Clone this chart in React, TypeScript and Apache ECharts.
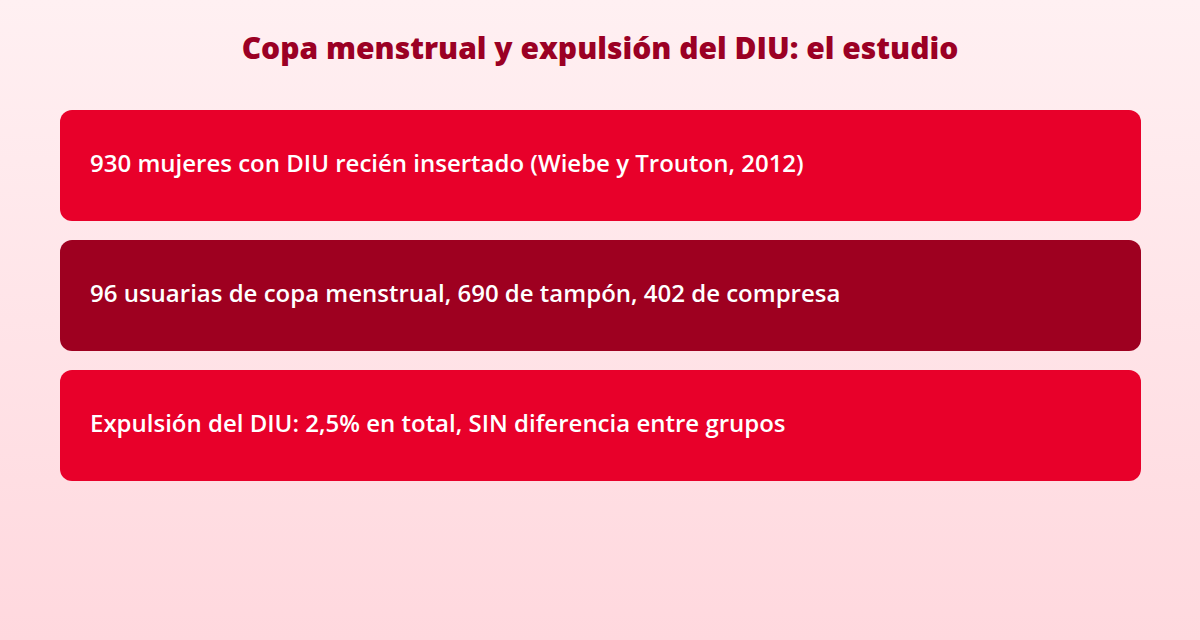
import React, { useEffect, useRef } from 'react';
import * as echarts from 'echarts';

const title = 'Copa menstrual y expulsión del DIU: el estudio';
const rows = [
  '930 mujeres con DIU recién insertado (Wiebe y Trouton, 2012)',
  '96 usuarias de copa menstrual, 690 de tampón, 402 de compresa',
  'Expulsión del DIU: 2,5% en total, SIN diferencia entre grupos',
];
const rowColors = ['#e8002a', '#9e0020', '#e8002a'];

const App: React.FC = () => {
  const chartRef = useRef<HTMLDivElement>(null);

  useEffect(() => {
    if (!chartRef.current) return;
    document.body.style.margin = '0';
    const chart = echarts.init(chartRef.current, undefined, { renderer: 'svg' });

    const boxes: any[] = [];
    rows.forEach((text, i) => {
      const top = 110 + i * 130;
      boxes.push({
        type: 'rect',
        shape: { x: 60, y: top, width: 1081, height: 111, r: 12 },
        style: { fill: rowColors[i] },
      });
      boxes.push({
        type: 'text',
        x: 90,
        y: top + 52,
        style: {
          text,
          fill: '#ffffff',
          font: '600 24px "Open Sans"',
          verticalAlign: 'middle',
        },
      });
    });

    chart.setOption({
      animation: false,
      backgroundColor: 'transparent',
      title: {
        text: title,
        left: 'center',
        top: 27,
        textStyle: { color: '#9b0024', fontSize: 30, fontWeight: 800, fontFamily: 'Open Sans' },
      },
      graphic: boxes,
    });

    return () => chart.dispose();
  }, []);

  return (
    <div
      ref={chartRef}
      style={{
        width: 1200,
        height: 640,
        background: 'linear-gradient(to bottom, #fff0f2, #ffd8de)',
      }}
    />
  );
};

export default App;
